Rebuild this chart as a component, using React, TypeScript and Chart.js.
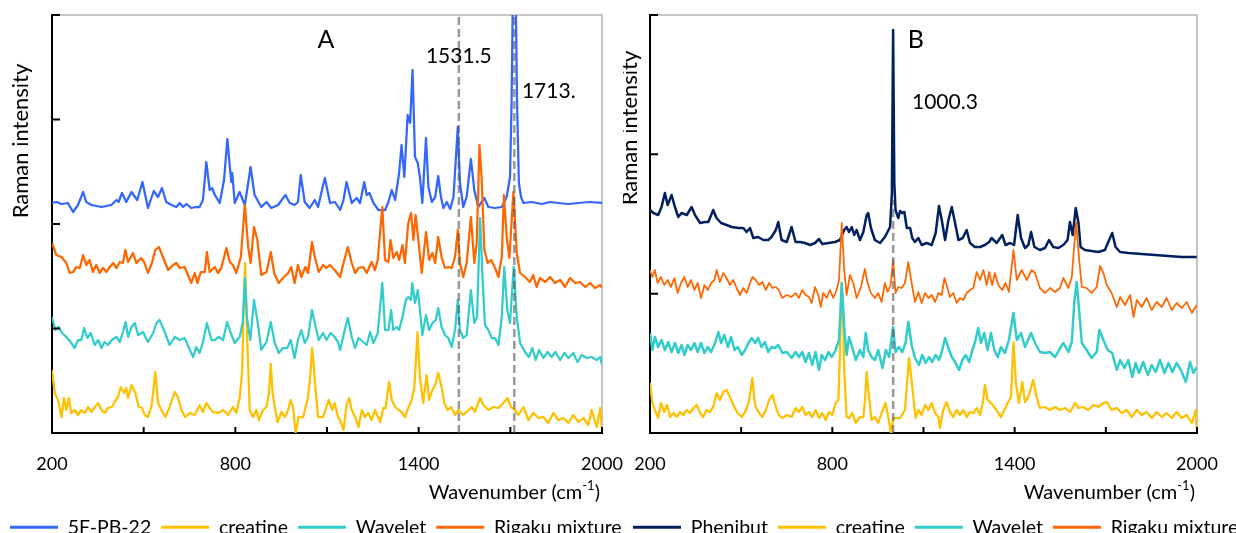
import React, { useEffect, useRef } from 'react';
import { Chart, registerables } from 'chart.js';

Chart.register(...registerables);

type Pt = [number, number];

const FONT = 'Lato, "Open Sans", sans-serif';

// ---------- axis values ----------
const X_MIN = 200;
const X_MAX = 2000;
const X_STEP = 300;
const X_LABELS = [200, 800, 1400, 2000];
const Y_MAX = 418;

// ---------- Panel A ----------
const pb22A: Pt[] = [[200,230],[215,231],[231,229],[252,230],[269,221],[285,228],[302,241],[312,231],[329,228],[345,227],[362,226],[378,227],[394,228],[411,233],[418,231],[429,240],[443,231],[460,241],[479,233],[496,251],[514,225],[533,242],[547,236],[560,245],[574,231],[591,228],[607,226],[618,230],[629,226],[640,229],[656,225],[670,226],[683,226],[694,233],[705,271],[716,243],[724,245],[733,238],[749,230],[763,253],[774,294],[782,266],[787,251],[790,260],[798,230],[814,241],[831,228],[850,266],[863,238],[885,226],[902,231],[918,225],[940,228],[964,238],[978,230],[994,228],[1005,231],[1014,258],[1027,231],[1043,225],[1060,233],[1071,226],[1082,241],[1093,255],[1110,230],[1126,231],[1143,223],[1154,233],[1164,251],[1181,230],[1197,235],[1208,230],[1222,251],[1230,238],[1239,240],[1252,230],[1268,223],[1290,223],[1301,231],[1312,243],[1323,233],[1336,260],[1344,288],[1353,256],[1364,318],[1372,310],[1380,363],[1388,276],[1397,270],[1404,256],[1412,230],[1424,295],[1432,246],[1443,231],[1454,236],[1464,257],[1473,236],[1481,225],[1492,231],[1503,224],[1514,236],[1528,306],[1535,250],[1546,226],[1557,236],[1571,274],[1582,243],[1595,226],[1615,235],[1628,226],[1650,225],[1672,226],[1688,236],[1699,256],[1704,330],[1708,430],[1718,430],[1722,330],[1728,250],[1735,236],[1743,230],[1770,231],[1803,229],[1830,231],[1857,230],[1890,229],[1923,230],[1960,231],[2000,230]];

const creatineA: Pt[] = [[200,63],[209,40],[220,33],[231,16],[239,35],[247,23],[255,35],[263,20],[274,23],[285,18],[296,23],[307,20],[318,26],[329,21],[340,26],[351,30],[362,23],[372,20],[383,25],[396,26],[405,31],[416,36],[425,46],[436,40],[443,45],[449,35],[460,48],[473,40],[484,26],[495,25],[503,18],[514,16],[525,26],[531,40],[538,61],[547,30],[558,23],[571,16],[585,26],[602,41],[612,36],[623,23],[636,16],[651,20],[667,18],[683,28],[694,21],[705,30],[716,25],[727,21],[743,20],[760,23],[776,18],[792,26],[803,20],[814,35],[822,60],[828,130],[832,170],[836,130],[839,93],[847,23],[858,16],[869,23],[877,13],[891,23],[902,26],[910,40],[916,69],[922,40],[927,30],[938,11],[951,21],[962,16],[973,23],[981,33],[989,26],[997,0],[1007,16],[1022,16],[1038,36],[1046,60],[1051,85],[1056,70],[1060,53],[1071,16],[1087,16],[1098,26],[1106,33],[1117,23],[1125,30],[1136,16],[1143,13],[1154,3],[1164,28],[1172,35],[1181,23],[1192,16],[1203,6],[1214,23],[1224,16],[1235,20],[1246,13],[1257,23],[1274,11],[1284,25],[1292,25],[1303,51],[1312,33],[1323,26],[1334,23],[1344,21],[1355,16],[1366,25],[1377,33],[1386,46],[1396,101],[1404,56],[1415,30],[1426,58],[1434,33],[1445,43],[1454,48],[1464,60],[1475,46],[1484,30],[1495,23],[1506,26],[1519,18],[1530,23],[1546,18],[1563,23],[1574,26],[1584,21],[1601,35],[1612,28],[1628,23],[1645,26],[1661,25],[1677,30],[1691,35],[1702,26],[1715,23],[1726,18],[1743,26],[1759,13],[1775,20],[1792,15],[1808,16],[1824,10],[1841,20],[1857,13],[1874,15],[1890,10],[1906,18],[1923,11],[1939,15],[1955,8],[1966,23],[1983,6],[1994,25],[2000,3]];

const waveletA: Pt[] = [[200,116],[211,103],[222,106],[233,100],[247,96],[263,90],[274,85],[285,93],[296,93],[305,105],[316,95],[327,100],[340,88],[351,93],[362,85],[372,91],[383,88],[396,93],[411,96],[422,91],[432,101],[441,111],[449,96],[460,106],[471,110],[482,98],[498,101],[514,91],[531,100],[542,110],[552,113],[569,101],[585,88],[602,96],[618,93],[634,95],[651,83],[662,76],[672,86],[683,80],[694,91],[707,110],[722,93],[733,93],[746,96],[760,93],[773,111],[785,100],[798,90],[814,96],[824,110],[831,155],[838,115],[849,93],[861,133],[872,113],[885,83],[902,91],[916,111],[929,90],[942,80],[956,85],[970,85],[981,93],[994,75],[1005,93],[1016,103],[1027,90],[1038,96],[1051,123],[1060,110],[1073,93],[1087,100],[1098,93],[1112,100],[1125,96],[1136,91],[1143,83],[1154,98],[1168,115],[1181,96],[1192,85],[1203,95],[1219,91],[1230,88],[1241,101],[1252,90],[1266,100],[1281,150],[1290,103],[1301,103],[1310,123],[1317,103],[1328,106],[1336,103],[1347,116],[1358,133],[1366,136],[1375,133],[1379,150],[1388,130],[1397,143],[1404,123],[1412,98],[1424,118],[1434,103],[1445,110],[1456,113],[1464,125],[1475,106],[1486,98],[1497,95],[1508,86],[1519,103],[1528,133],[1535,103],[1546,95],[1557,98],[1571,143],[1582,110],[1591,116],[1601,215],[1609,156],[1617,108],[1628,103],[1639,95],[1650,95],[1661,88],[1672,116],[1680,166],[1690,123],[1699,110],[1711,166],[1721,116],[1732,90],[1748,81],[1761,76],[1772,85],[1783,73],[1794,83],[1808,75],[1822,81],[1835,76],[1848,81],[1863,73],[1877,80],[1890,75],[1906,80],[1920,71],[1934,78],[1950,75],[1966,76],[1983,73],[1994,76],[2000,68]];

const rigakuA: Pt[] = [[200,190],[214,178],[231,176],[247,170],[258,160],[269,161],[280,166],[291,165],[302,178],[312,168],[323,173],[334,161],[345,168],[356,160],[367,165],[378,161],[389,166],[400,170],[411,165],[422,171],[432,170],[440,183],[449,171],[465,180],[476,170],[492,175],[503,170],[514,160],[527,170],[538,183],[550,186],[563,176],[580,163],[596,168],[607,170],[618,165],[634,166],[645,158],[656,150],[667,160],[676,150],[687,161],[700,161],[707,181],[716,161],[733,166],[743,160],[754,165],[771,185],[782,171],[792,168],[803,160],[818,176],[831,228],[842,186],[850,170],[861,206],[872,193],[885,158],[902,161],[916,181],[927,160],[942,150],[956,155],[973,160],[983,166],[994,150],[1005,168],[1016,156],[1029,166],[1038,160],[1051,191],[1060,176],[1073,161],[1087,168],[1098,165],[1109,168],[1125,163],[1143,156],[1154,170],[1168,186],[1181,170],[1192,160],[1203,165],[1219,166],[1230,160],[1246,171],[1257,163],[1266,173],[1281,226],[1290,173],[1301,171],[1308,193],[1317,175],[1328,181],[1336,173],[1347,188],[1355,170],[1366,210],[1375,220],[1383,193],[1390,218],[1399,193],[1410,160],[1424,201],[1434,173],[1445,180],[1454,170],[1464,196],[1475,176],[1486,165],[1497,166],[1508,165],[1519,176],[1528,203],[1535,170],[1546,156],[1557,170],[1571,216],[1582,170],[1590,190],[1599,288],[1606,256],[1615,183],[1626,170],[1637,173],[1650,165],[1661,156],[1672,176],[1679,238],[1688,196],[1697,175],[1710,241],[1721,180],[1732,160],[1748,156],[1764,151],[1775,158],[1786,146],[1797,155],[1814,151],[1830,156],[1846,150],[1863,153],[1879,146],[1895,155],[1912,150],[1928,151],[1945,146],[1961,150],[1977,145],[1994,148],[2000,145]];

const guide1531: Pt[] = [[1531.5,0],[1531.5,418]];
const guide1713: Pt[] = [[1713,0],[1713,418]];

// ---------- Panel B ----------
const phenibutB: Pt[] = [[200,223],[211,220],[227,218],[238,226],[249,240],[258,228],[271,238],[282,226],[293,216],[304,220],[321,218],[337,226],[348,218],[365,210],[381,211],[392,211],[408,223],[419,215],[434,210],[452,208],[469,206],[491,205],[507,205],[518,201],[529,205],[540,195],[556,196],[573,193],[589,193],[600,196],[614,203],[622,211],[633,193],[650,191],[666,206],[679,191],[694,191],[710,190],[727,188],[743,190],[756,194],[767,189],[787,190],[809,191],[825,193],[839,203],[847,206],[855,201],[864,206],[872,198],[880,203],[891,193],[902,201],[913,218],[918,220],[927,205],[940,193],[957,190],[973,196],[990,206],[996,240],[1000,403],[1004,250],[1008,223],[1017,215],[1023,222],[1030,220],[1037,221],[1045,205],[1056,205],[1063,195],[1072,191],[1083,195],[1094,188],[1110,190],[1127,188],[1140,200],[1151,227],[1160,213],[1171,193],[1182,213],[1193,226],[1204,210],[1215,193],[1229,195],[1242,203],[1253,190],[1269,186],[1286,186],[1302,188],[1316,191],[1324,195],[1341,190],[1359,198],[1370,188],[1385,190],[1398,188],[1410,218],[1421,195],[1434,185],[1445,188],[1454,201],[1465,186],[1483,183],[1500,185],[1513,193],[1527,186],[1544,185],[1560,188],[1574,193],[1582,211],[1591,198],[1601,225],[1610,210],[1617,186],[1631,183],[1653,182],[1675,181],[1697,183],[1708,191],[1721,200],[1732,186],[1747,181],[1774,180],[1818,179],[1862,178],[1906,177],[1950,176],[1999,176]];

const creatineB: Pt[] = [[200,50],[208,30],[216,23],[227,15],[236,30],[247,21],[256,28],[266,16],[277,20],[288,16],[299,21],[310,18],[321,23],[332,20],[343,25],[354,28],[365,20],[375,16],[386,23],[397,21],[408,26],[419,40],[430,33],[441,41],[452,43],[463,36],[474,28],[488,20],[502,16],[513,21],[524,30],[531,42],[537,55],[543,35],[548,26],[559,20],[570,16],[581,23],[592,33],[603,38],[614,26],[624,18],[635,15],[650,18],[666,16],[679,25],[690,21],[701,26],[712,18],[723,21],[734,16],[745,23],[756,15],[767,20],[778,13],[789,21],[800,18],[811,30],[820,33],[826,90],[831,150],[836,110],[839,63],[847,16],[855,15],[866,20],[877,10],[891,16],[902,16],[908,35],[913,61],[918,45],[921,36],[929,13],[940,16],[951,10],[962,20],[975,30],[984,16],[993,0],[1001,15],[1012,15],[1023,15],[1039,23],[1046,50],[1052,75],[1058,60],[1063,46],[1074,15],[1083,23],[1094,18],[1105,28],[1116,23],[1127,30],[1138,20],[1149,16],[1154,5],[1165,23],[1176,31],[1187,21],[1198,16],[1209,23],[1220,18],[1231,23],[1242,16],[1253,21],[1264,20],[1275,25],[1286,18],[1295,30],[1302,48],[1311,33],[1322,30],[1333,26],[1344,21],[1355,16],[1366,23],[1377,30],[1388,36],[1396,91],[1404,50],[1414,30],[1425,51],[1434,31],[1445,36],[1461,53],[1472,36],[1483,25],[1500,26],[1516,23],[1533,26],[1549,23],[1566,25],[1582,21],[1599,30],[1610,25],[1626,26],[1642,23],[1659,28],[1675,26],[1692,30],[1703,31],[1719,23],[1736,25],[1752,20],[1769,23],[1785,16],[1802,23],[1818,18],[1834,21],[1851,15],[1867,21],[1884,16],[1900,20],[1917,15],[1933,21],[1950,15],[1966,18],[1983,10],[1996,23],[1999,5]];

const waveletB: Pt[] = [[200,100],[208,83],[216,96],[227,86],[238,93],[249,83],[260,91],[271,81],[282,90],[293,80],[304,88],[313,78],[324,88],[335,83],[346,90],[357,81],[368,90],[379,80],[390,86],[401,81],[414,90],[425,101],[434,90],[445,98],[456,86],[467,96],[478,83],[489,86],[502,78],[513,83],[524,90],[535,95],[546,90],[556,95],[567,86],[578,91],[589,81],[600,86],[611,85],[622,88],[636,80],[650,81],[666,75],[679,81],[690,76],[701,81],[712,71],[723,80],[734,68],[745,81],[756,63],[765,78],[776,73],[787,81],[798,76],[811,83],[822,93],[831,150],[839,106],[847,78],[855,96],[866,85],[877,73],[891,83],[902,76],[910,100],[918,83],[929,76],[940,73],[951,83],[965,65],[976,83],[987,76],[1000,106],[1008,81],[1019,86],[1030,81],[1041,90],[1050,111],[1061,88],[1072,75],[1085,68],[1096,78],[1107,70],[1118,76],[1129,71],[1140,78],[1151,73],[1160,81],[1171,95],[1182,85],[1193,76],[1204,71],[1217,63],[1228,73],[1239,78],[1250,71],[1261,83],[1269,90],[1280,105],[1289,90],[1300,100],[1311,83],[1322,100],[1333,83],[1344,76],[1355,86],[1368,80],[1381,93],[1396,120],[1407,93],[1421,100],[1434,86],[1454,100],[1467,90],[1483,81],[1500,80],[1516,81],[1533,76],[1546,83],[1560,90],[1577,81],[1588,91],[1596,130],[1604,151],[1612,123],[1621,90],[1637,83],[1653,75],[1670,81],[1679,103],[1692,93],[1706,83],[1721,80],[1736,63],[1747,73],[1761,65],[1774,73],[1787,56],[1798,70],[1809,60],[1823,71],[1838,58],[1851,68],[1864,61],[1878,73],[1893,60],[1906,70],[1919,61],[1933,70],[1947,63],[1963,51],[1977,71],[1988,60],[1999,66]];

const rigakuB: Pt[] = [[200,163],[208,156],[216,163],[225,150],[236,156],[247,148],[258,153],[269,146],[280,155],[291,140],[302,150],[313,156],[324,146],[335,153],[346,143],[357,150],[368,135],[379,148],[390,143],[401,150],[412,153],[419,163],[430,151],[441,160],[452,155],[463,148],[474,153],[485,145],[496,138],[507,145],[518,140],[529,150],[537,156],[548,153],[559,148],[570,151],[581,143],[592,150],[603,145],[614,146],[624,143],[635,135],[650,138],[666,136],[679,140],[690,135],[701,143],[712,138],[723,136],[732,130],[743,146],[754,138],[762,126],[770,140],[781,135],[792,143],[803,135],[814,143],[822,153],[831,210],[839,163],[847,138],[858,158],[869,150],[880,135],[894,146],[907,164],[916,150],[927,140],[940,135],[951,140],[962,131],[973,150],[982,141],[992,148],[1000,173],[1008,140],[1017,146],[1028,145],[1039,150],[1050,171],[1061,150],[1072,131],[1083,141],[1094,130],[1105,140],[1116,135],[1127,138],[1138,131],[1149,140],[1160,138],[1169,155],[1176,148],[1187,136],[1198,140],[1209,130],[1220,135],[1231,133],[1242,140],[1253,143],[1264,145],[1275,161],[1286,153],[1297,163],[1308,148],[1316,161],[1326,148],[1335,160],[1346,148],[1359,143],[1370,150],[1381,141],[1396,183],[1407,153],[1423,163],[1440,153],[1456,163],[1467,160],[1483,145],[1500,140],[1516,145],[1533,141],[1549,145],[1560,155],[1577,145],[1588,156],[1602,211],[1613,171],[1621,146],[1637,145],[1653,140],[1670,146],[1681,167],[1692,160],[1703,148],[1719,140],[1736,126],[1747,136],[1763,128],[1780,138],[1791,116],[1802,133],[1818,126],[1834,135],[1851,123],[1867,131],[1884,126],[1900,135],[1917,123],[1933,130],[1950,125],[1966,131],[1983,120],[1999,128]];

const guide1000: Pt[] = [[1000.3,0],[1000.3,233]];

// ---------- panel descriptions ----------
interface Series { label: string; data: Pt[]; color: string; width: number; }
interface Note { text: string; x: number; y: number; size: number; align: CanvasTextAlign; }
interface Panel {
  series: Series[];
  guides: Pt[][];
  notes: Note[];
  yTicks: number;
  yAxisWidth: number;
  rightPad: number;
  yTitleDx: number;
  yTitleY: number;
}

const panelA: Panel = {
  series: [
    { label: '5F-PB-22', data: pb22A, color: '#3366ff', width: 2.25 },
    { label: 'creatine', data: creatineA, color: '#ffc000', width: 2.25 },
    { label: 'Wavelet', data: waveletA, color: '#33cccc', width: 2.25 },
    { label: 'Rigaku mixture', data: rigakuA, color: '#ff6600', width: 2.25 },
  ],
  guides: [guide1531, guide1713],
  notes: [
    { text: 'A', x: 1097, y: 393, size: 25, align: 'center' },
    { text: '1531.5', x: 1531.5, y: 377, size: 21, align: 'center' },
    { text: '1713.', x: 1738, y: 342, size: 21, align: 'left' },
  ],
  yTicks: 4,
  yAxisWidth: 52,
  rightPad: 58,
  yTitleDx: -31,
  yTitleY: 292,
};

const panelB: Panel = {
  series: [
    { label: 'Phenibut', data: phenibutB, color: '#002060', width: 2.5 },
    { label: 'creatine', data: creatineB, color: '#ffc000', width: 2.25 },
    { label: 'Wavelet', data: waveletB, color: '#33cccc', width: 2.5 },
    { label: 'Rigaku mixture', data: rigakuB, color: '#ff6600', width: 1.75 },
  ],
  guides: [guide1000],
  notes: [
    { text: 'B', x: 1075, y: 393, size: 25, align: 'center' },
    { text: '1000.3', x: 1062, y: 331, size: 21, align: 'left' },
  ],
  yTicks: 3,
  yAxisWidth: 27,
  rightPad: 86,
  yTitleDx: -20,
  yTitleY: 305,
};

const decorPlugin = {
  id: 'decor',
  beforeDatasetsDraw(chart: any) {
    const { ctx, chartArea: a } = chart;
    ctx.save();
    ctx.strokeStyle = '#b4b4b4';
    ctx.lineWidth = 1.5;
    ctx.beginPath();
    ctx.moveTo(a.left, a.top);
    ctx.lineTo(a.right, a.top);
    ctx.lineTo(a.right, a.bottom);
    ctx.stroke();
    ctx.restore();
  },
  afterDatasetsDraw(chart: any, _args: any, opts: any) {
    const { ctx, chartArea: a, scales } = chart;
    const xs = scales.x;
    const ys = scales.y;
    ctx.save();
    ctx.strokeStyle = '#000';
    ctx.lineWidth = 2;
    ctx.beginPath();
    const yt = (ys.ticks && ys.ticks.length) ? ys.ticks.map((t: any) => t.value) : [];
    yt.forEach((v: number) => {
      const py = ys.getPixelForValue(v);
      ctx.moveTo(a.left, py);
      ctx.lineTo(a.left + 8, py);
    });
    xs.ticks.forEach((t: any) => {
      const px = xs.getPixelForValue(t.value);
      ctx.moveTo(px, a.bottom);
      ctx.lineTo(px, a.bottom - 6);
    });
    ctx.stroke();

    ctx.fillStyle = '#000';
    ctx.textBaseline = 'middle';

    // y axis title
    ctx.save();
    ctx.translate(a.left + opts.yTitleDx, ys.getPixelForValue(opts.yTitleY));
    ctx.rotate(-Math.PI / 2);
    ctx.textAlign = 'center';
    ctx.font = `22px ${FONT}`;
    ctx.fillText('Raman intensity', 0, 0);
    ctx.restore();

    // x axis title with superscript
    const main = 'Wavenumber (cm';
    const sup = '-1';
    const tail = ')';
    ctx.font = `20px ${FONT}`;
    const wMain = ctx.measureText(main).width;
    const wTail = ctx.measureText(tail).width;
    ctx.font = `13px ${FONT}`;
    const wSup = ctx.measureText(sup).width;
    const right = a.right - 2;
    const ty = a.bottom + 60;
    const x0 = right - (wMain + wSup + wTail);
    ctx.textAlign = 'left';
    ctx.font = `20px ${FONT}`;
    ctx.fillText(main, x0, ty);
    ctx.font = `13px ${FONT}`;
    ctx.fillText(sup, x0 + wMain, ty - 7);
    ctx.font = `20px ${FONT}`;
    ctx.fillText(tail, x0 + wMain + wSup, ty);

    // annotations
    (opts.notes || []).forEach((n: Note) => {
      ctx.font = `${n.size}px ${FONT}`;
      ctx.textAlign = n.align;
      ctx.fillText(n.text, xs.getPixelForValue(n.x), ys.getPixelForValue(n.y));
    });
    ctx.restore();
  },
};

function makeChart(canvas: HTMLCanvasElement, p: Panel) {
  const lineSets = p.series.map((s, i) => ({
    label: s.label,
    data: s.data,
    borderColor: s.color,
    backgroundColor: s.color,
    borderWidth: s.width,
    pointRadius: 0,
    tension: 0,
    fill: false,
    borderJoinStyle: 'round' as const,
    order: p.series.length - i,
    yAxisID: 'y',
    xAxisID: 'x',
  }));
  const guideSets = p.guides.map((g) => ({
    label: '',
    data: g,
    borderColor: 'rgba(85,85,85,0.6)',
    backgroundColor: 'rgba(85,85,85,0.6)',
    borderWidth: 2.5,
    borderDash: [8, 4],
    pointRadius: 0,
    fill: false,
    order: 0,
    yAxisID: 'y',
    xAxisID: 'x',
  }));
  const nSeries = p.series.length;
  return new Chart(canvas, {
    type: 'line',
    data: { datasets: [...lineSets, ...guideSets] as any },
    options: {
      animation: false,
      responsive: false,
      maintainAspectRatio: false,
      devicePixelRatio: 1,
      events: [],
      layout: { padding: { top: 15, left: 0, right: 0, bottom: 0 } },
      plugins: {
        tooltip: { enabled: false },
        title: { display: false },
        legend: {
          display: true,
          position: 'bottom',
          align: 'start',
          labels: {
            boxWidth: 48,
            boxHeight: 3,
            padding: 10,
            color: '#000',
            font: { family: FONT, size: 19.5 },
            generateLabels: (chart: any) =>
              chart.data.datasets.slice(0, nSeries).map((ds: any, i: number) => ({
                text: ds.label,
                fillStyle: ds.borderColor,
                strokeStyle: ds.borderColor,
                lineWidth: 0,
                hidden: false,
                datasetIndex: i,
                fontColor: '#000',
              })),
          },
        },
        decor: { notes: p.notes, yTitleDx: p.yTitleDx, yTitleY: p.yTitleY },
      } as any,
      scales: {
        x: {
          type: 'linear',
          position: 'bottom',
          min: X_MIN,
          max: X_MAX,
          ticks: {
            stepSize: X_STEP,
            autoSkip: false,
            maxRotation: 0,
            minRotation: 0,
            padding: 0,
            color: '#000',
            font: { family: FONT, size: 18, lineHeight: 62 / 18 },
            callback: (v: any) => (X_LABELS.includes(Number(v)) ? String(v) : ''),
          },
          grid: { display: false, drawTicks: false },
          border: { display: true, color: '#000', width: 2 },
          afterFit: (s: any) => { s.height = 74.5; },
        },
        y: {
          type: 'linear',
          position: 'left',
          min: 0,
          max: Y_MAX,
          ticks: { display: false, stepSize: Y_MAX / p.yTicks },
          grid: { display: false, drawTicks: false },
          border: { display: true, color: '#000', width: 2 },
          afterFit: (s: any) => { s.width = p.yAxisWidth; },
        },
        yR: {
          type: 'linear',
          position: 'right',
          display: true,
          ticks: { display: false },
          grid: { display: false, drawTicks: false },
          border: { display: false },
          afterFit: (s: any) => { s.width = p.rightPad; },
        },
      } as any,
    },
    plugins: [decorPlugin as any],
  });
}

export default function App() {
  const refA = useRef<HTMLCanvasElement>(null);
  const refB = useRef<HTMLCanvasElement>(null);
  useEffect(() => {
    const a = refA.current ? makeChart(refA.current, panelA) : null;
    const b = refB.current ? makeChart(refB.current, panelB) : null;
    return () => { a?.destroy(); b?.destroy(); };
  }, []);
  const W = 660;
  const H = 547;
  return (
    <div style={{ position: 'fixed', left: 0, top: 0, width: 1236, height: 533, overflow: 'hidden', background: '#fff' }}>
      <canvas ref={refA} width={W} height={H} style={{ position: 'absolute', left: 0, top: 0, width: W, height: H }} />
      <canvas ref={refB} width={W} height={H} style={{ position: 'absolute', left: 623, top: 0, width: W, height: H }} />
    </div>
  );
}
